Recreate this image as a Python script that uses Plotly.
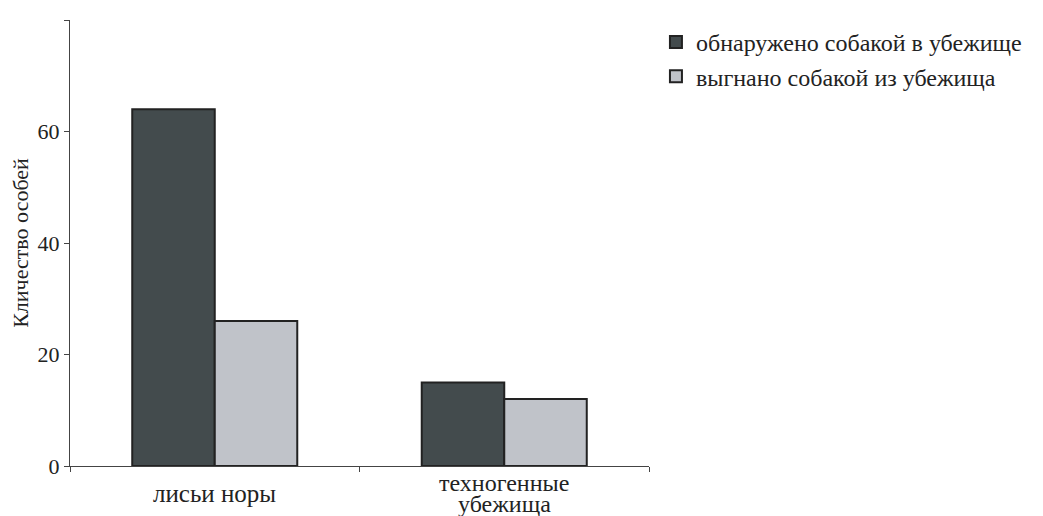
import plotly.graph_objects as go

categories = ["лисьи норы", "техногенные\nубежища"]
series_names = ["обнаружено собакой в убежище", "выгнано собакой из убежища"]
found = [64, 15]
driven = [26, 12]
y_ticks = [0, 20, 40, 60, 80]

colors = ["#434b4d", "#c0c3c9"]
font = "Liberation Serif, Times New Roman, serif"

fig = go.Figure()
for name, vals, col in zip(series_names, [found, driven], colors):
    fig.add_trace(go.Bar(
        x=categories, y=vals, name=name,
        marker=dict(color=col, line=dict(color="#222222", width=2)),
    ))

for cat in categories:
    lines = cat.split("\n")
    for i, line in enumerate(lines):
        shift = -27 if len(lines) == 1 else -(17 + 21 * i)
        fig.add_annotation(x=cat, y=0, xref="x", yref="y", text=line,
                           showarrow=False, yanchor="middle", yshift=shift,
                           borderpad=0,
                           font=dict(size=25 if len(lines) == 1 else 24,
                                     family=font, color="#222222"))

fig.update_layout(
    width=1035, height=508,
    margin=dict(l=62, r=394, t=12, b=50),
    plot_bgcolor="white", paper_bgcolor="white",
    barmode="group", bargap=0.43, bargroupgap=0,
    font=dict(family=font, size=20, color="#222222"),
    showlegend=True,
    legend=dict(x=1.012, y=1.0, xanchor="left", yanchor="top",
                font=dict(size=24, family=font), itemsizing="constant",
                bgcolor="rgba(0,0,0,0)"),
)
fig.update_xaxes(
    type="category", tickson="boundaries", ticks="outside", ticklen=5,
    tickcolor="#444", showline=True, linecolor="#444", linewidth=1.2,
    showgrid=False, range=[-0.5, 1.5], showticklabels=False, automargin=False,
)
fig.update_yaxes(
    range=[0, 80], tickvals=y_ticks, ticks="outside", ticklen=5,
    tickcolor="#444", showline=True, linecolor="#444", linewidth=1.2,
    showgrid=False, zeroline=False, tickfont=dict(size=22, family=font),
    automargin=False,
    title=dict(text="Кличество особей", font=dict(size=22, family=font), standoff=10),
)

fig.write_html("out.html")
